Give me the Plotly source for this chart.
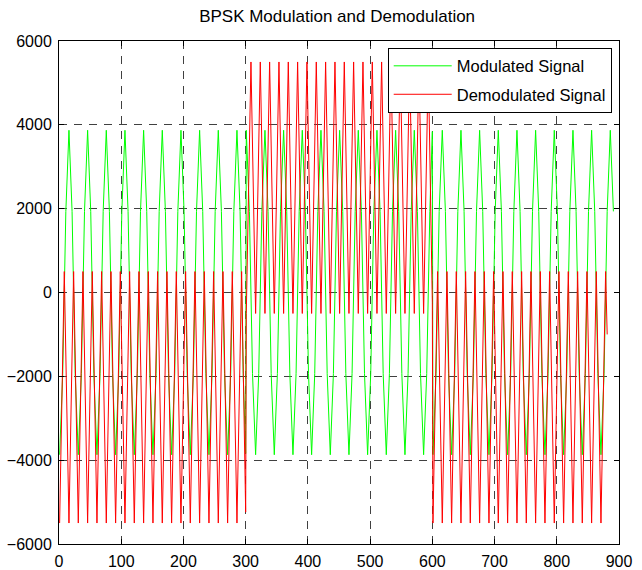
import plotly.graph_objects as go

# ---- data (samples of each signal) ----
green_x_1 = [1, 6, 11, 16, 21, 26, 31, 36, 41, 46, 51, 56, 61, 66, 71, 76, 81, 86, 91, 96,
             101, 106, 111, 116, 121, 126, 131, 136, 141, 146, 151, 156, 161, 166, 171, 176,
             181, 186, 191, 196, 201, 206, 211, 216, 221, 226, 231, 236, 241, 246, 251, 256,
             261, 266, 271, 276, 281, 286, 291, 296, 300]
green_y_1 = [-3870, -1935, 1935, 3870, 1935, -1935, -3870, -1935, 1935, 3870, 1935, -1935,
             -3870, -1935, 1935, 3870, 1935, -1935, -3870, -1935, 1935, 3870, 1935, -1935,
             -3870, -1935, 1935, 3870, 1935, -1935, -3870, -1935, 1935, 3870, 1935, -1935,
             -3870, -1935, 1935, 3870, 1935, -1935, -3870, -1935, 1935, 3870, 1935, -1935,
             -3870, -1935, 1935, 3870, 1935, -1935, -3870, -1935, 1935, 3870, 1935, -1935,
             -3840]
green_x_2 = [301, 306, 311, 316, 321, 326, 331, 336, 341, 346, 351, 356, 361, 366, 371, 376,
             381, 386, 391, 396, 401, 406, 411, 416, 421, 426, 431, 436, 441, 446, 451, 456,
             461, 466, 471, 476, 481, 486, 491, 496, 501, 506, 511, 516, 521, 526, 531, 536,
             541, 546, 551, 556, 561, 566, 571, 576, 581, 586, 591, 596, 600]
green_y_2 = [3870, 1935, -1935, -3870, -1935, 1935, 3870, 1935, -1935, -3870, -1935, 1935,
             3870, 1935, -1935, -3870, -1935, 1935, 3870, 1935, -1935, -3870, -1935, 1935,
             3870, 1935, -1935, -3870, -1935, 1935, 3870, 1935, -1935, -3870, -1935, 1935,
             3870, 1935, -1935, -3870, -1935, 1935, 3870, 1935, -1935, -3870, -1935, 1935,
             3870, 1935, -1935, -3870, -1935, 1935, 3870, 1935, -1935, -3870, -1935, 1935,
             3840]
green_x_3 = [601, 606, 611, 616, 621, 626, 631, 636, 641, 646, 651, 656, 661, 666, 671, 676,
             681, 686, 691, 696, 701, 706, 711, 716, 721, 726, 731, 736, 741, 746, 751, 756,
             761, 766, 771, 776, 781, 786, 791, 796, 801, 806, 811, 816, 821, 826, 831, 836,
             841, 846, 851, 856, 861, 866, 871, 876, 881, 886, 891]
green_y_3 = [-3870, -1935, 1935, 3870, 1935, -1935, -3870, -1935, 1935, 3870, 1935, -1935,
             -3870, -1935, 1935, 3870, 1935, -1935, -3870, -1935, 1935, 3870, 1935, -1935,
             -3870, -1935, 1935, 3870, 1935, -1935, -3870, -1935, 1935, 3870, 1935, -1935,
             -3870, -1935, 1935, 3870, 1935, -1935, -3870, -1935, 1935, 3870, 1935, -1935,
             -3870, -1935, 1935, 3870, 1935, -1935, -3870, -1935, 1935, 3870, 1935]

red_x_1 = [1, 8.5, 16, 23.5, 31, 38.5, 46, 53.5, 61, 68.5, 76, 83.5, 91, 98.5, 106, 113.5,
           121, 128.5, 136, 143.5, 151, 158.5, 166, 173.5, 181, 188.5, 196, 203.5, 211, 218.5,
           226, 233.5, 241, 248.5, 256, 263.5, 271, 278.5, 286, 293.5, 300]
red_y_1 = [-5500, 500, -5500, 500, -5500, 500, -5500, 500, -5500, 500, -5500, 500, -5500, 500,
           -5500, 500, -5500, 500, -5500, 500, -5500, 500, -5500, 500, -5500, 500, -5500, 500,
           -5500, 500, -5500, 500, -5500, 500, -5500, 500, -5500, 500, -5500, 500, -5240]
red_x_2 = [301, 308.5, 316, 323.5, 331, 338.5, 346, 353.5, 361, 368.5, 376, 383.5, 391, 398.5,
           406, 413.5, 421, 428.5, 436, 443.5, 451, 458.5, 466, 473.5, 481, 488.5, 496, 503.5,
           511, 518.5, 526, 533.5, 541, 548.5, 556, 563.5, 571, 578.5, 586, 593.5, 600]
red_y_2 = [-500, 5500, -500, 5500, -500, 5500, -500, 5500, -500, 5500, -500, 5500, -500, 5500,
           -500, 5500, -500, 5500, -500, 5500, -500, 5500, -500, 5500, -500, 5500, -500, 5500,
           -500, 5500, -500, 5500, -500, 5500, -500, 5500, -500, 5500, -500, 5500, -240]
red_x_3 = [601, 608.5, 616, 623.5, 631, 638.5, 646, 653.5, 661, 668.5, 676, 683.5, 691, 698.5,
           706, 713.5, 721, 728.5, 736, 743.5, 751, 758.5, 766, 773.5, 781, 788.5, 796, 803.5,
           811, 818.5, 826, 833.5, 841, 848.5, 856, 863.5, 871, 878.5, 881]
red_y_3 = [-5500, 500, -5500, 500, -5500, 500, -5500, 500, -5500, 500, -5500, 500, -5500, 500,
           -5500, 500, -5500, 500, -5500, 500, -5500, 500, -5500, 500, -5500, 500, -5500, 500,
           -5500, 500, -5500, 500, -5500, 500, -5500, 500, -5500, 500, -1000]

x_ticks = [0, 100, 200, 300, 400, 500, 600, 700, 800, 900]
y_ticks = [-6000, -4000, -2000, 0, 2000, 4000, 6000]

title_text = "BPSK Modulation and Demodulation"
names = ["Modulated Signal", "Demodulated Signal"]

green_x = green_x_1 + green_x_2 + green_x_3
green_y = green_y_1 + green_y_2 + green_y_3
red_x = red_x_1 + red_x_2 + red_x_3
red_y = red_y_1 + red_y_2 + red_y_3

FONT = "Liberation Sans, Arial, Helvetica, sans-serif"

fig = go.Figure()
fig.add_trace(go.Scatter(x=green_x, y=green_y, mode="lines", name=names[0],
                         legendgroup="g1", line=dict(color="#00ff00", width=1)))
fig.add_trace(go.Scatter(x=red_x, y=red_y, mode="lines", name=names[1],
                         legendgroup="g2", line=dict(color="#ff0000", width=1)))

axis_common = dict(
    showline=True, linecolor="black", linewidth=1, mirror="ticks",
    ticks="inside", ticklen=5, tickcolor="black",
    showgrid=True, gridcolor="rgba(0,0,0,0.75)", gridwidth=1, griddash="8px,7px",
    zeroline=False, automargin=False,
    tickfont=dict(family=FONT, size=16, color="black"),
)

fig.update_layout(
    width=642, height=570,
    margin=dict(l=58.5, r=22.7, t=40.7, b=25.7),
    paper_bgcolor="white", plot_bgcolor="white",
    title=dict(text=title_text, x=(337 - 58.5) / (642 - 58.5 - 22.7), xref="paper",
               xanchor="center", y=1 - 16 / 570, yref="container", yanchor="middle",
               font=dict(family=FONT, size=17, color="black")),
    xaxis=dict(range=[0, 900], tickvals=x_ticks, ticklabelstandoff=3, **axis_common),
    yaxis=dict(range=[-6000, 6000], tickvals=y_ticks, ticklabelstandoff=3, **axis_common),
    legend=dict(x=(612 - 58.5) / (642 - 58.5 - 22.7), y=1 - (47.3 - 40.7) / 503.6,
                xanchor="right", yanchor="top", itemwidth=58,
                tracegroupgap=4, traceorder="grouped",
                bgcolor="white", bordercolor="black", borderwidth=1,
                font=dict(family=FONT, size=16.5, color="black")),
    showlegend=True,
)

fig.write_html("out.html")
